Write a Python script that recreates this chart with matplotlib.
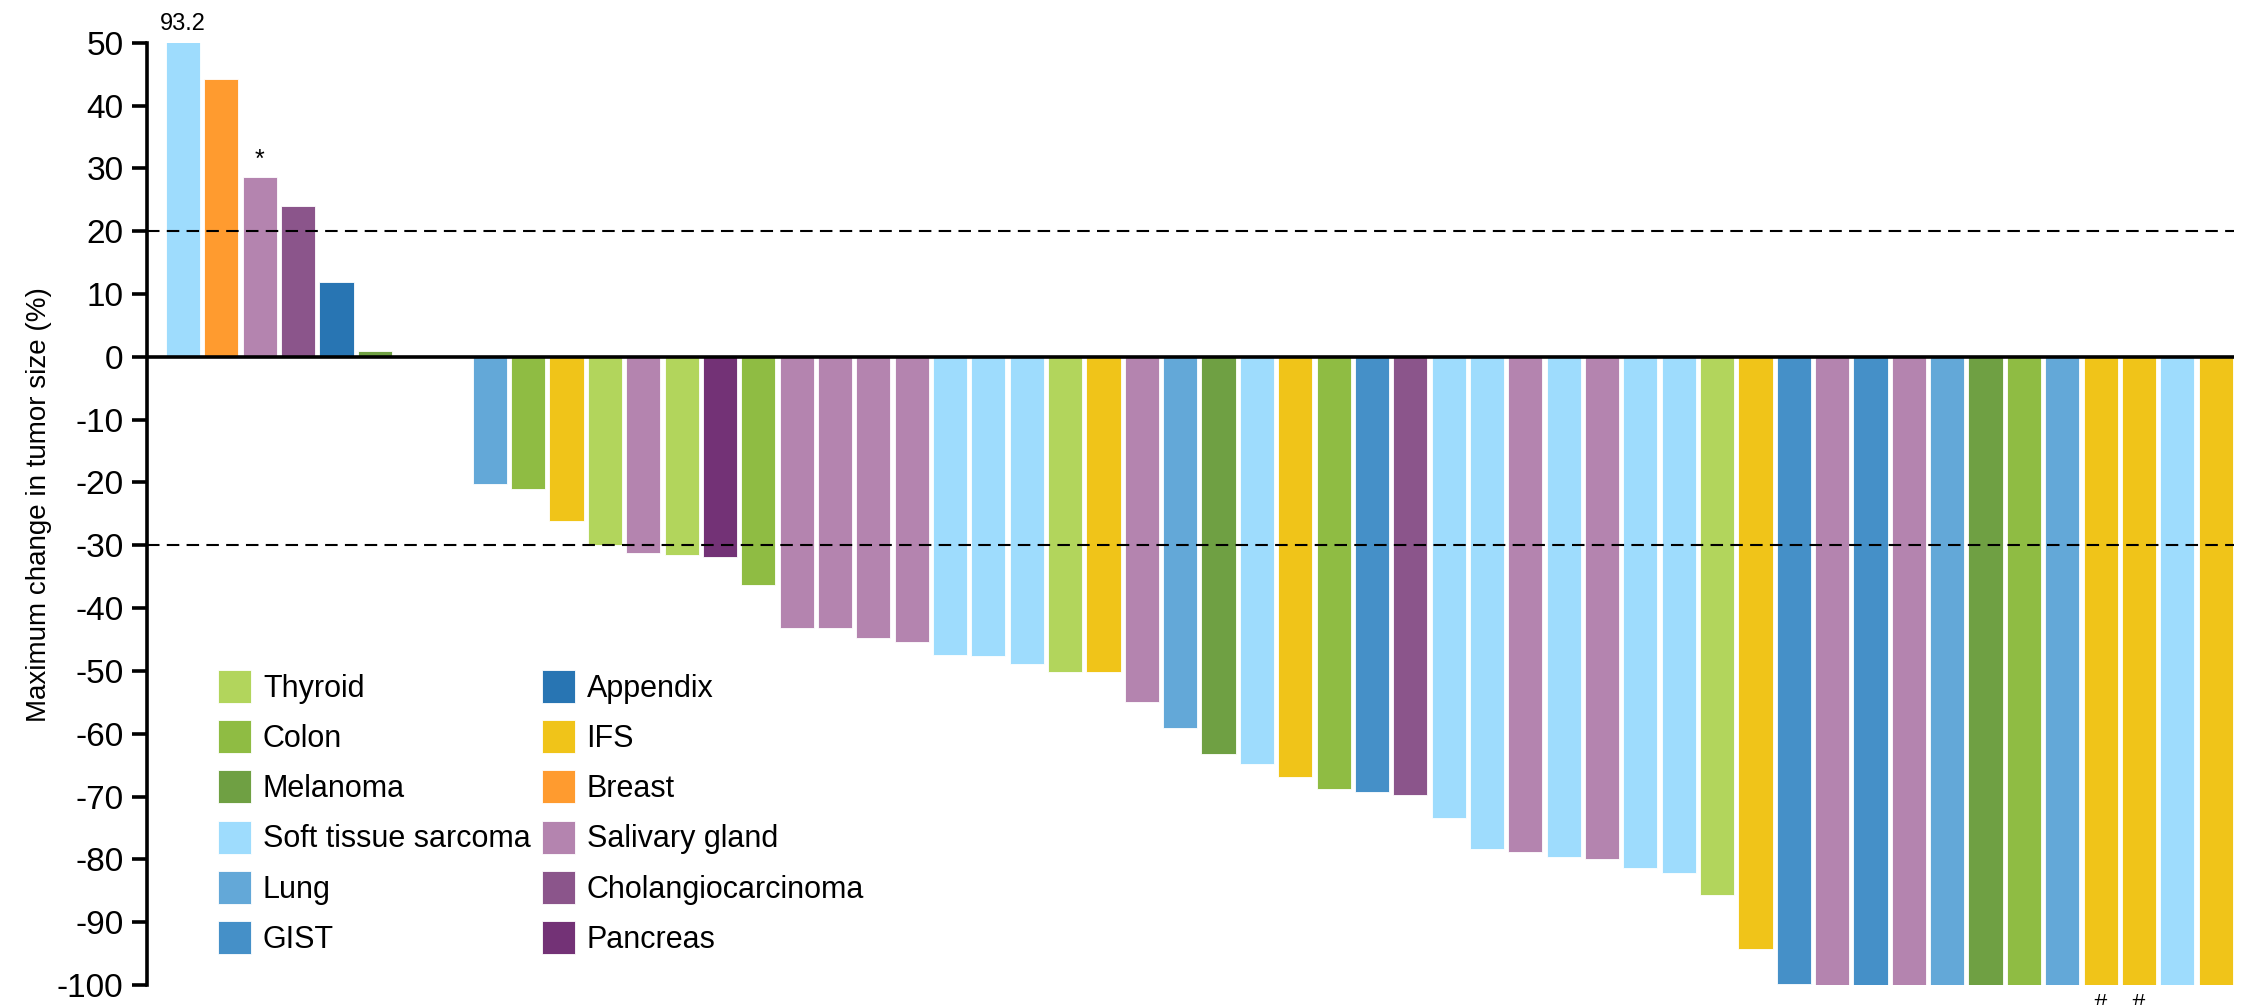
import matplotlib.pyplot as plt
import numpy as np
from matplotlib.patches import Patch

plt.rcParams['font.family'] = ['Liberation Sans', 'DejaVu Sans']
plt.rcParams['axes.unicode_minus'] = False

# tumour types and their colours (legend order)
CATEGORIES = ["Thyroid", "Colon", "Melanoma", "Soft tissue sarcoma", "Lung", "GIST",
              "Appendix", "IFS", "Breast", "Salivary gland", "Cholangiocarcinoma", "Pancreas"]
COLORS = ["#B2D55C", "#8FBC43", "#6FA043", "#9EDCFD", "#63A8D8", "#4590C8",
          "#2875B3", "#F0C419", "#FF9B2F", "#B484AF", "#8B558B", "#733276"]

# one entry per patient, left to right ("" = empty slot)
patient_type = [
    "Soft tissue sarcoma", "Breast", "Salivary gland", "Cholangiocarcinoma", "Appendix", "Melanoma",
    "", "",
    "Lung", "Colon", "IFS", "Thyroid", "Salivary gland", "Thyroid", "Pancreas", "Colon",
    "Salivary gland", "Salivary gland", "Salivary gland", "Salivary gland",
    "Soft tissue sarcoma", "Soft tissue sarcoma", "Soft tissue sarcoma", "Thyroid", "IFS",
    "Salivary gland", "Lung", "Melanoma", "Soft tissue sarcoma", "IFS", "Colon", "GIST",
    "Cholangiocarcinoma", "Soft tissue sarcoma", "Soft tissue sarcoma", "Salivary gland",
    "Soft tissue sarcoma", "Salivary gland", "Soft tissue sarcoma", "Soft tissue sarcoma",
    "Thyroid", "IFS", "GIST", "Salivary gland", "GIST", "Salivary gland", "Lung", "Melanoma",
    "Colon", "Lung", "IFS", "IFS", "Soft tissue sarcoma", "IFS",
]
change = [
    93.2, 44.3, 28.6, 24.0, 11.9, 1.0,
    0.0, 0.0,
    -20.2, -21.1, -26.2, -29.9, -31.2, -31.6, -31.8, -36.4,
    -43.2, -43.2, -44.8, -45.4,
    -47.4, -47.6, -48.9, -50.2, -50.2,
    -54.9, -59.1, -63.3, -64.8, -66.9, -68.8, -69.2,
    -69.7, -73.4, -78.3, -78.8,
    -79.7, -80.0, -81.3, -82.1,
    -85.6, -94.2, -99.8, -100, -100, -100, -100, -100,
    -100, -100, -100, -100, -100, -100,
]
star_idx = [2]
hash_idx = [50, 51]

YLIM = (-100, 50)
PD_LINE = 20
PR_LINE = -30


def main():
    color_of = dict(zip(CATEGORIES, COLORS))
    x = np.arange(len(change))
    keep = [i for i, t in enumerate(patient_type) if t]

    fig = plt.figure(figsize=(22.41, 10.05), dpi=100)
    ax = fig.add_axes([0.0656, 0.0199, 0.9313, 0.9376])

    ax.bar(x[keep], [change[i] for i in keep], width=0.89,
           color=[color_of[patient_type[i]] for i in keep],
           edgecolor="white", linewidth=0.6)

    ax.axhline(0, color="black", lw=2.6, zorder=3)
    for y in (PD_LINE, PR_LINE):
        ax.axhline(y, color="black", lw=1.5, ls=(0, (6, 3.5)), zorder=3)

    # value of the clipped bar, and markers
    ax.text(x[0], YLIM[1] + 1.3, f"{change[0]:.1f}", ha="center", va="bottom",
            fontsize=17, clip_on=False)
    for i in star_idx:
        ax.text(x[i], change[i] + 0.8, "*", ha="center", va="bottom", fontsize=18)
    for i in hash_idx:
        ax.text(x[i], YLIM[0] - 1.5, "#", ha="center", va="top", fontsize=17, clip_on=False)

    ax.set_xlim(-0.94, 53.48)
    ax.set_ylim(*YLIM)
    ax.set_yticks(np.arange(-100, 51, 10))
    ax.set_xticks([])
    for s in ("top", "right", "bottom"):
        ax.spines[s].set_visible(False)
    ax.spines["left"].set_linewidth(2.6)
    ax.tick_params(axis="y", length=11, width=2.6, labelsize=24, pad=6)

    ax.set_ylabel("Maximum change in tumor size (%)", fontsize=20)
    ax.yaxis.set_label_coords(-0.0455, 0.51)

    handles = [Patch(facecolor=c, edgecolor="white", linewidth=0.6) for c in COLORS]
    ax.legend(handles, CATEGORIES, ncol=2, frameon=False, fontsize=22,
              loc="upper left", bbox_to_anchor=(218 / 2241, 1 - 670 / 1005),
              bbox_transform=fig.transFigure, borderpad=0, borderaxespad=0,
              handlelength=1.08, handleheight=1.28, handletextpad=0.39,
              labelspacing=0.54, columnspacing=0.36)

    fig.savefig("out.png", dpi=100)


if __name__ == '__main__':
    main()
